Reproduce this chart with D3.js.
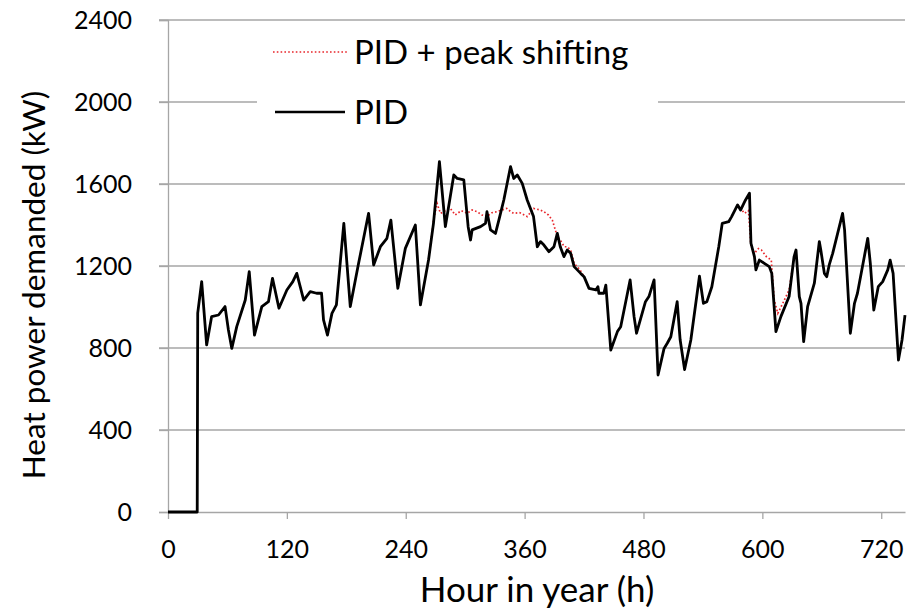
<!DOCTYPE html>
<html>
<head>
<meta charset="utf-8">
<script src="https://cdn.jsdelivr.net/npm/d3@7"></script>
<style>
  html, body { margin: 0; padding: 0; background: #fff; }
  svg { display: block; }
  text { font-family: Lato, "Open Sans", sans-serif; fill: #000; }
</style>
</head>
<body>
<svg id="chart" width="914" height="610"></svg>
<script>
// ---- data ----
const xTicks = [0, 120, 240, 360, 480, 600, 720];
const yTicks = [0, 400, 800, 1200, 1600, 2000, 2400];
const seriesNames = ["PID + peak shifting", "PID"];

// PID (black solid)
const pidHours = [0, 29.5, 30, 34, 39, 44, 51, 57.6, 61, 64.4, 69.4, 78, 82, 87.3, 94.7, 101.4, 105.5, 112, 120, 126,
  130, 137, 143.6, 150, 155, 157, 161, 165.5, 170, 177.5, 184, 192.4, 202.5, 207.6, 214.4, 221, 225, 232, 239.6, 249.7,
  254.8, 263, 268, 274, 280, 288.5, 292, 298.6, 303, 305.4, 307, 315.5, 320.5, 322, 325.6, 330.6, 334, 339, 345.8, 349,
  352.6, 357.6, 362.6, 369, 372.8, 376, 379.5, 384.5, 389.6, 393, 396, 399.7, 403, 406.5, 410, 416.6, 420, 425, 432, 434,
  435, 440, 442, 447, 453.7, 457, 466.5, 470.5, 473, 482, 485.5, 490.7, 494.7, 500.8, 504, 507.6, 514, 517, 521.5, 527.8,
  536.5, 540.5, 544, 549, 556, 559.5, 566, 569, 575, 578, 583, 587, 588.5, 592, 593.5, 597, 602, 607, 609.5, 613.7,
  618.7, 627, 632, 634, 637.3, 639, 641.7, 645.7, 652.5, 657.5, 659, 662.6, 665, 667.5, 671, 681, 683, 688.8, 693, 696,
  706.4, 709, 712.5, 717, 721.5, 726.6, 729, 732, 737.4, 741, 744];
const pidValues = [0, 0, 970, 1124, 815, 953, 961, 1002, 888, 798, 904, 1034, 1172, 863, 1002, 1026, 1140, 994, 1083, 1124,
  1164, 1034, 1075, 1067, 1067, 937, 863, 969, 1010, 1408, 1002, 1213, 1457, 1205, 1294, 1335, 1424, 1091, 1286, 1400,
  1010, 1229, 1408, 1709, 1392, 1644, 1627, 1620, 1392, 1327, 1376, 1392, 1408, 1465, 1376, 1359, 1424, 1522, 1685, 1627,
  1644, 1603, 1522, 1441, 1294, 1319, 1302, 1270, 1294, 1359, 1294, 1246, 1278, 1262, 1197, 1164, 1148, 1091, 1083, 1099,
  1067, 1067, 1107, 790, 880, 904, 1132, 953, 872, 1026, 1051, 1132, 668, 798, 823, 855, 1026, 840, 695, 839,
  1150, 1018, 1026, 1099, 1294, 1408, 1416, 1441, 1498, 1473, 1522, 1555, 1311, 1246, 1181, 1229, 1213, 1197, 1164, 880,
  953, 1051, 1245, 1278, 1051, 1018, 831, 1002, 1116, 1319, 1278, 1164, 1148, 1205, 1262, 1457, 1376, 872, 1018, 1067,
  1335, 1213, 985, 1099, 1124, 1181, 1229, 1164, 741, 839, 960];

// PID + peak shifting (red dotted) – only where it departs from PID (elsewhere it lies under the black line)
const shiftHours1 = [263, 268, 271.6, 275, 280, 285, 290, 296, 302, 307, 312, 317, 322, 327, 332, 337, 342, 346, 349, 355,
  362.6, 369, 376, 379.5, 384, 388, 391, 393, 396, 400, 403, 406.5, 410, 416, 420];
const shiftValues1 = [1229, 1420, 1506, 1457, 1470, 1481, 1449, 1470, 1457, 1473, 1465, 1449, 1441, 1460, 1465, 1473, 1481, 1465, 1457, 1460,
  1441, 1481, 1473, 1465, 1449, 1424, 1376, 1343, 1327, 1294, 1294, 1278, 1213, 1181, 1148];
const shiftHours2 = [575, 578, 582, 586, 588.5, 592, 596, 599, 604, 609, 612, 615.6, 620.6, 627, 632];
const shiftValues2 = [1498, 1481, 1457, 1470, 1294, 1262, 1285, 1278, 1246, 1229, 1034, 969, 1018, 1083, 1245];

// ---- chart ----
const svg = d3.select("#chart");
const x = d3.scaleLinear().domain([0, 744]).range([168, 905]);
const y = d3.scaleLinear().domain([0, 2400]).range([512, 20]);
const gridColor = "#a6a6a6";
const tickFont = 25;

// horizontal gridlines
svg.append("g").selectAll("line").data(yTicks.filter(d => d > 0)).join("line")
  .attr("x1", x(0) - 9).attr("x2", x(744))
  .attr("y1", d => y(d)).attr("y2", d => y(d))
  .attr("stroke", gridColor).attr("stroke-width", 1.3);

// y axis
const yAxis = svg.append("g").attr("transform", `translate(${x(0)},0)`)
  .call(d3.axisLeft(y).tickValues(yTicks).tickSize(9).tickPadding(27).tickFormat(d3.format("d")));
yAxis.select(".domain").attr("stroke", gridColor).attr("stroke-width", 1.3);
yAxis.selectAll(".tick line").attr("stroke", gridColor).attr("stroke-width", 1.3);
yAxis.selectAll(".tick text").attr("font-size", tickFont).attr("font-family", "Lato, sans-serif").attr("fill", "#111");

// x axis
const xAxis = svg.append("g").attr("transform", `translate(0,${y(0)})`)
  .call(d3.axisBottom(x).tickValues(xTicks).tickSize(7).tickPadding(21).tickSizeOuter(0));
xAxis.select(".domain").attr("stroke", gridColor).attr("stroke-width", 1.3);
xAxis.selectAll(".tick line").attr("stroke", gridColor).attr("stroke-width", 1.3);
xAxis.selectAll(".tick text").attr("font-size", tickFont).attr("font-family", "Lato, sans-serif").attr("fill", "#111");

// lines
const line = d3.line().x(d => x(d[0])).y(d => y(d[1]));
const redColor = "#e8262b";
[[shiftHours1, shiftValues1], [shiftHours2, shiftValues2]].forEach(([h, v]) => {
  svg.append("path").datum(h.map((d, i) => [d, v[i]]))
    .attr("fill", "none").attr("stroke", redColor).attr("stroke-width", 1.7)
    .attr("stroke-dasharray", "1.6,2.2").attr("d", line);
});
svg.append("path").datum(pidHours.map((d, i) => [d, pidValues[i]]))
  .attr("fill", "none").attr("stroke", "#000").attr("stroke-width", 2.8)
  .attr("stroke-linejoin", "round").attr("d", line);

// legend
const lg = svg.append("g");
lg.append("rect").attr("x", 257).attr("y", 28).attr("width", 401).attr("height", 104).attr("fill", "#fff");
lg.append("line").attr("x1", 273).attr("x2", 347).attr("y1", 52).attr("y2", 52)
  .attr("stroke", redColor).attr("stroke-width", 1.7).attr("stroke-dasharray", "1.6,2.2");
lg.append("text").attr("x", 354).attr("y", 64).attr("font-size", 33).text(seriesNames[0]);
lg.append("line").attr("x1", 275).attr("x2", 345).attr("y1", 112).attr("y2", 112)
  .attr("stroke", "#000").attr("stroke-width", 2.6);
lg.append("text").attr("x", 354).attr("y", 124).attr("font-size", 33).text(seriesNames[1]);

// axis titles
svg.append("text").attr("x", 537).attr("y", 602).attr("text-anchor", "middle")
  .attr("font-size", 35).text("Hour in year (h)");
svg.append("text").attr("transform", "translate(45,285) rotate(-90)").attr("text-anchor", "middle")
  .attr("font-size", 31.5).text("Heat power demanded (kW)");
</script>
</body>
</html>
